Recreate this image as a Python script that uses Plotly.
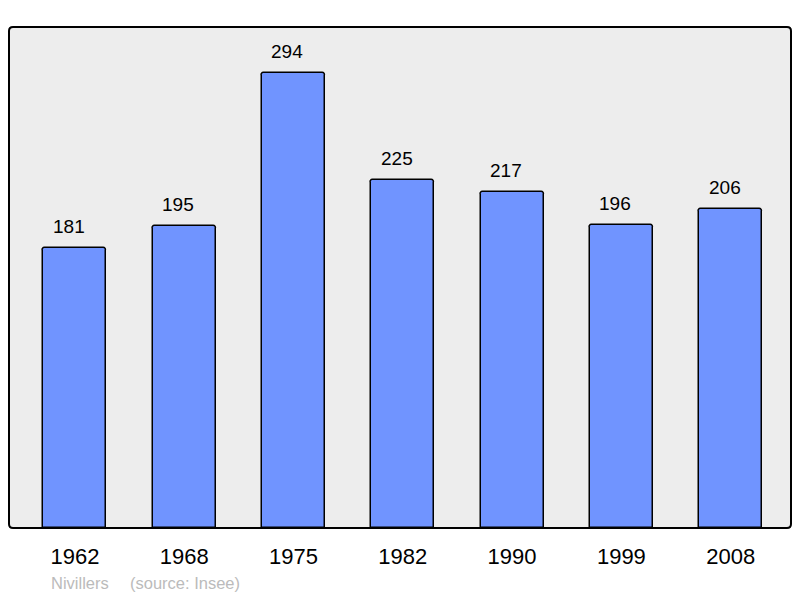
import plotly.graph_objects as go

years = ["1962", "1968", "1975", "1982", "1990", "1999", "2008"]
population = [181, 195, 294, 225, 217, 196, 206]
commune = "Nivillers"
source = "(source: Insee)"

xpos = list(range(len(years)))

PW, PH = 782, 501
FONT = "Liberation Sans, Arial, sans-serif"

fig = go.Figure()
fig.add_trace(go.Bar(
    x=xpos, y=population, width=0.576,
    marker=dict(color="rgb(112,148,255)", line=dict(color="black", width=1.5),
                cornerradius=3),
    hoverinfo="skip",
))

for x, v in zip(xpos, population):
    fig.add_annotation(x=x, y=v, text=str(v), showarrow=False, yanchor="bottom",
                       yshift=9, xshift=-6,
                       font=dict(size=19, color="black", family=FONT))

fig.add_annotation(xref="paper", yref="paper", x=(49 - 9) / PW, y=-(583 - 528) / PH,
                   xanchor="left", yanchor="middle", showarrow=False, text=commune,
                   font=dict(size=16.5, color="#bbbbbb", family=FONT))
fig.add_annotation(xref="paper", yref="paper", x=(128 - 9) / PW, y=-(583 - 528) / PH,
                   xanchor="left", yanchor="middle", showarrow=False, text=source,
                   font=dict(size=16.5, color="#bbbbbb", family=FONT))

rx, ry = 4 / PW, 4 / PH
path = (f"M {rx},0 L {1-rx},0 Q 1,0 1,{ry} L 1,{1-ry} Q 1,1 {1-rx},1 "
        f"L {rx},1 Q 0,1 0,{1-ry} L 0,{ry} Q 0,0 {rx},0 Z")
fig.add_shape(type="path", xref="paper", yref="paper", path=path,
              line=dict(color="black", width=2), layer="above")

fig.update_layout(
    width=800, height=598,
    margin=dict(l=9, r=9, t=27, b=70),
    paper_bgcolor="white", plot_bgcolor="#ededed",
    showlegend=False,
    bargap=0,
    font=dict(family=FONT, color="black"),
    xaxis=dict(range=[-0.603, 6.552], tickvals=xpos, ticktext=years,
               showgrid=False, zeroline=False, showline=False, ticks="",
               tickfont=dict(size=22), ticklabelstandoff=13, fixedrange=True),
    yaxis=dict(range=[0, 323.7], showgrid=False, zeroline=False, showticklabels=False,
               ticks="", showline=False, fixedrange=True),
)

fig.write_html("out.html", config={"displayModeBar": False},
               post_script="document.body.style.margin='0';document.body.style.overflow='hidden';")
